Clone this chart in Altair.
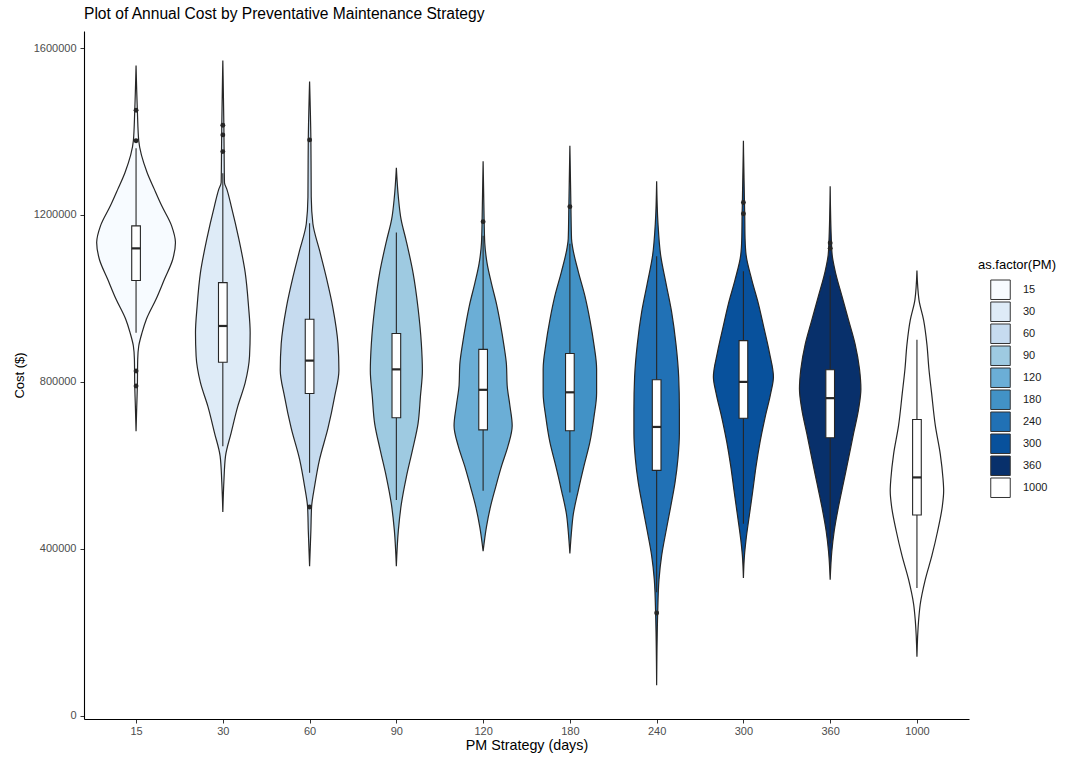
import altair as alt
import pandas as pd

# ---------------- data ----------------
PM_LABELS = ["15", "30", "60", "90", "120", "180", "240", "300", "360", "1000"]
FILL_COLORS = ["#f7fbff", "#deebf7", "#c6dbef", "#9ecae1", "#6baed6",
               "#4292c6", "#2171b5", "#08519c", "#08306b", "#ffffff"]

# violin outlines: cost level ($) and half width (in category units)
V15_COST = [1558000, 1451000, 1378000, 1302000, 1262000, 1222000, 1174000, 1134000, 1094000,
            1046000, 998000, 950000, 918000, 886000, 854000, 790000, 742000, 682000]
V15_HW = [0, 0.015, 0.031, 0.127, 0.21, 0.296, 0.41, 0.454, 0.423,
          0.327, 0.23, 0.119, 0.069, 0.031, 0.019, 0.015, 0.008, 0]

V30_COST = [1570000, 1415000, 1352000, 1278000, 1262000, 1222000, 1142000, 1062000, 982000,
            918000, 862000, 798000, 742000, 678000, 622000, 560000, 488000]
V30_HW = [0, 0.012, 0.015, 0.019, 0.046, 0.096, 0.185, 0.258, 0.296,
          0.315, 0.308, 0.258, 0.173, 0.096, 0.031, 0.012, 0]

V60_COST = [1520000, 1380000, 1243000, 1179000, 1115000, 1051000, 977000, 892000, 828000,
            764000, 689000, 614000, 550000, 500000, 444000, 358000]
V60_HW = [0, 0.015, 0.019, 0.038, 0.115, 0.192, 0.269, 0.327, 0.338,
          0.288, 0.212, 0.115, 0.058, 0.023, 0.015, 0]

V90_COST = [1313000, 1243000, 1190000, 1137000, 1062000, 977000, 892000, 828000, 764000,
            700000, 636000, 572000, 508000, 444000, 358000]
V90_HW = [0, 0.023, 0.054, 0.115, 0.192, 0.25, 0.288, 0.3, 0.277,
          0.25, 0.185, 0.115, 0.058, 0.023, 0]

V120_COST = [1329000, 1184000, 1133000, 1084000, 1036000, 987000, 938000, 890000, 841000,
             792000, 744000, 695000, 647000, 598000, 549000, 501000, 452000, 394000]
V120_HW = [0, 0.012, 0.019, 0.046, 0.096, 0.154, 0.2, 0.238, 0.269,
           0.277, 0.308, 0.335, 0.288, 0.212, 0.146, 0.085, 0.038, 0]

V180_COST = [1366000, 1220000, 1143000, 1123000, 1065000, 1006000, 948000, 890000, 831000,
             773000, 715000, 656000, 598000, 539000, 481000, 442000, 389000]
V180_HW = [0, 0.012, 0.019, 0.031, 0.096, 0.173, 0.231, 0.277, 0.308,
           0.308, 0.277, 0.231, 0.162, 0.096, 0.038, 0.019, 0]

V240_COST = [1281000, 1181000, 1104000, 1036000, 967000, 890000, 812000, 734000, 676000,
             617000, 559000, 501000, 442000, 384000, 326000, 246000, 73000]
V240_HW = [0, 0.015, 0.046, 0.108, 0.173, 0.223, 0.254, 0.262, 0.262,
           0.246, 0.212, 0.162, 0.108, 0.058, 0.027, 0.012, 0]

V300_COST = [1378000, 1230000, 1203000, 1143000, 1104000, 1045000, 987000, 928000, 870000,
             812000, 773000, 715000, 656000, 598000, 539000, 481000, 423000, 384000, 330000]
V300_HW = [0, 0.012, 0.015, 0.019, 0.031, 0.096, 0.173, 0.238, 0.3,
           0.346, 0.315, 0.25, 0.192, 0.146, 0.108, 0.069, 0.031, 0.012, 0]

V360_COST = [1269000, 1133000, 1104000, 1065000, 1006000, 948000, 890000, 831000, 783000,
             734000, 676000, 617000, 559000, 501000, 442000, 394000, 326000]
V360_HW = [0, 0.015, 0.023, 0.058, 0.135, 0.212, 0.288, 0.338, 0.354,
           0.327, 0.269, 0.212, 0.154, 0.096, 0.046, 0.019, 0]

V1000_COST = [1067000, 997000, 948000, 890000, 831000, 773000, 695000, 627000, 569000,
              539000, 501000, 442000, 384000, 326000, 267000, 228000, 141000]
V1000_HW = [0, 0.023, 0.077, 0.115, 0.138, 0.169, 0.212, 0.269, 0.3,
            0.308, 0.292, 0.238, 0.173, 0.096, 0.038, 0.019, 0]

# boxplot statistics per strategy
BOX_LO = [918000, 646000, 582000, 517000, 539000, 535000, 296000, 460000, 413000, 306000]
BOX_Q1 = [1043000, 847000, 772000, 714000, 685000, 683000, 588000, 713000, 666000, 481000]
BOX_MED = [1120000, 934000, 851000, 830000, 781000, 775000, 692000, 800000, 761000, 571000]
BOX_Q3 = [1174000, 1038000, 950000, 916000, 878000, 868000, 805000, 899000, 829000, 710000]
BOX_HI = [1360000, 1300000, 1180000, 1158000, 1150000, 1131000, 1101000, 1065000, 1055000, 901000]

# outlier points
OUT_PM = ["15", "15", "15", "15", "30", "30", "30", "60", "60", "120", "180", "240", "300", "300", "360", "360"]
OUT_COST = [1451000, 1378000, 826000, 790000, 1415000, 1392000, 1352000, 1380000, 500000,
            1184000, 1220000, 246000, 1230000, 1203000, 1133000, 1120000]

# ---------------- tables ----------------
violins = [(V15_COST, V15_HW), (V30_COST, V30_HW), (V60_COST, V60_HW), (V90_COST, V90_HW),
           (V120_COST, V120_HW), (V180_COST, V180_HW), (V240_COST, V240_HW),
           (V300_COST, V300_HW), (V360_COST, V360_HW), (V1000_COST, V1000_HW)]
rows = []
for i, (costs, hws) in enumerate(violins):
    for c, h in zip(costs, hws):
        rows.append({"PM": PM_LABELS[i], "pos": i + 1, "cost": c, "hw": h})
vdf = pd.DataFrame(rows)
vdf["xlo"] = vdf["pos"] - vdf["hw"]
vdf["xhi"] = vdf["pos"] + vdf["hw"]

bdf = pd.DataFrame({"PM": PM_LABELS, "pos": list(range(1, 11)), "lo": BOX_LO, "q1": BOX_Q1,
                    "med": BOX_MED, "q3": BOX_Q3, "hi": BOX_HI})
bdf["bl"] = bdf["pos"] - 0.05
bdf["br"] = bdf["pos"] + 0.05

odf = pd.DataFrame({"PM": OUT_PM, "cost": OUT_COST})
odf["pos"] = odf["PM"].map({p: i + 1 for i, p in enumerate(PM_LABELS)})

# ---------------- scales & axes ----------------
FONT = "Liberation Sans"
LINE = "#262626"
xscale = alt.Scale(domain=[0.4, 10.6], nice=False, zero=False)
yscale = alt.Scale(domain=[-8000, 1641000], nice=False, zero=False)
label_expr = "[" + ",".join("'" + p + "'" for p in PM_LABELS) + "][round(datum.value) - 1]"
xaxis = alt.Axis(values=list(range(1, 11)), labelExpr=label_expr, title="PM Strategy (days)",
                 grid=False, domainColor="#000000", domainWidth=1.1, tickColor="#333333",
                 tickSize=4, labelColor="#4d4d4d", labelFontSize=11, labelPadding=2,
                 titleFontSize=14.3, titleFontWeight="normal", titleColor="#000000",
                 titlePadding=2, labelFont=FONT, titleFont=FONT)
yaxis = alt.Axis(values=[0, 400000, 800000, 1200000, 1600000], format="d", title="Cost ($)",
                 grid=False, domainColor="#000000", domainWidth=1.1, tickColor="#333333",
                 tickSize=4, labelColor="#4d4d4d", labelFontSize=11, labelPadding=4,
                 titleFontSize=13, titleFontWeight="normal", titleColor="#000000",
                 titlePadding=7, labelFont=FONT, titleFont=FONT)

legend = alt.Legend(title="as.factor(PM)", orient="none", legendX=894, legendY=228,
                    symbolType="square", symbolSize=380, symbolStrokeColor="#333333",
                    symbolStrokeWidth=1, symbolOpacity=1, symbolOffset=12,
                    labelFontSize=11, labelColor="#1a1a1a", labelOffset=12, labelFont=FONT,
                    titleFontSize=13, titleFontWeight="normal", titleColor="#000000",
                    titleFont=FONT, titlePadding=7, rowPadding=0, clipHeight=21.5)

violin = alt.Chart(vdf).mark_area(orient="horizontal", stroke=LINE, strokeWidth=1.2,
                                  interpolate="monotone", fillOpacity=1).encode(
    y=alt.Y("cost:Q", scale=yscale, axis=yaxis),
    x=alt.X("xlo:Q", scale=xscale, axis=xaxis, stack=None),
    x2="xhi:Q",
    color=alt.Color("PM:N", scale=alt.Scale(domain=PM_LABELS, range=FILL_COLORS), legend=legend),
)

whisker = alt.Chart(bdf).mark_rule(color=LINE, strokeWidth=1.1).encode(
    x=alt.X("pos:Q", scale=xscale, axis=xaxis),
    y=alt.Y("lo:Q", scale=yscale, axis=yaxis),
    y2="hi:Q",
)

box = alt.Chart(bdf).mark_rect(fill="#ffffff", stroke=LINE, strokeWidth=1.1).encode(
    x=alt.X("bl:Q", scale=xscale, axis=xaxis),
    x2="br:Q",
    y=alt.Y("q1:Q", scale=yscale, axis=yaxis),
    y2="q3:Q",
)

median = alt.Chart(bdf).mark_rule(color=LINE, strokeWidth=2.2).encode(
    x=alt.X("bl:Q", scale=xscale, axis=xaxis),
    x2="br:Q",
    y=alt.Y("med:Q", scale=yscale, axis=yaxis),
)

outliers = alt.Chart(odf).mark_circle(color=LINE, size=24, opacity=1).encode(
    x=alt.X("pos:Q", scale=xscale, axis=xaxis),
    y=alt.Y("cost:Q", scale=yscale, axis=yaxis),
)

chart = alt.layer(violin, whisker, box, median, outliers).properties(
    width=885, height=688,
    title=alt.TitleParams("Plot of Annual Cost by Preventative Maintenance Strategy",
                          anchor="start", frame="group", fontSize=15.6, fontWeight="normal",
                          color="#000000", font=FONT, offset=8),
    autosize=alt.AutoSizeParams(type="none"),
    padding={"left": 84, "top": 31, "right": 123, "bottom": 39},
    background="#ffffff",
).configure_view(stroke=None)

chart.save("out.html", embed_options={"renderer": "svg", "actions": False})
